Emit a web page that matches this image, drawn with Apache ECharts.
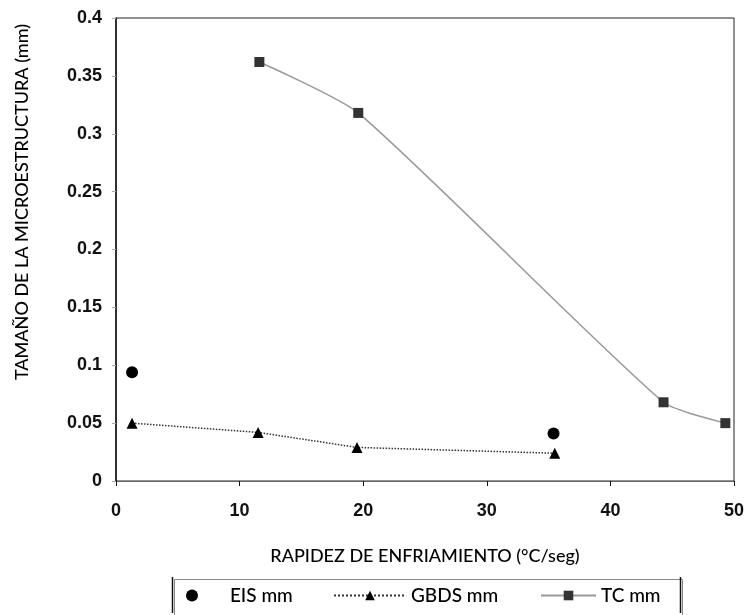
<!DOCTYPE html>
<html>
<head>
<meta charset="utf-8">
<script src="https://cdn.jsdelivr.net/npm/echarts@6/dist/echarts.min.js"></script>
<style>html,body{margin:0;padding:0;background:#fff;}#c{width:751px;height:615px;}</style>
</head>
<body>
<div id="c"></div>
<script>
const xTicks = [0, 10, 20, 30, 40, 50];
const yTicks = [0, 0.05, 0.1, 0.15, 0.2, 0.25, 0.3, 0.35, 0.4];
const eisX = [1.3, 35.4];
const eisY = [0.094, 0.041];
const gbdsX = [1.3, 11.5, 19.5, 35.5];
const gbdsY = [0.05, 0.042, 0.029, 0.024];
const tcX = [11.6, 19.6, 44.3, 49.3];
const tcY = [0.362, 0.318, 0.068, 0.05];
const seriesNames = ['EIS mm', 'GBDS mm', 'TC mm'];
const xTitle = 'RAPIDEZ DE ENFRIAMIENTO (°C/seg)';
const yTitle = 'TAMAÑO DE LA MICROESTRUCTURA (mm)';

const zip = (xs, ys) => xs.map((x, i) => [x, ys[i]]);
const titleFont = 'Lato, "Open Sans", sans-serif';
const numFont = '"Liberation Sans", Arial, sans-serif';
const legText = {fontFamily: titleFont, fontSize: 19, fontWeight: 500, color: '#000'};

const chart = echarts.init(document.getElementById('c'), null, {renderer: 'canvas'});
chart.setOption({
  backgroundColor: '#fff',
  animation: false,
  grid: {left: 116, right: 17, top: 18, bottom: 134, show: true, borderColor: '#222', borderWidth: 1, containLabel: false},
  xAxis: {
    type: 'value', min: xTicks[0], max: xTicks[xTicks.length - 1], interval: 10,
    name: xTitle, nameLocation: 'middle', nameGap: 66,
    nameTextStyle: {fontFamily: titleFont, fontSize: 18, fontWeight: 500, color: '#000'},
    axisLine: {show: true, lineStyle: {color: '#666', width: 1}},
    axisTick: {show: true, inside: false, length: 5, lineStyle: {color: '#111'}},
    axisLabel: {fontFamily: numFont, fontSize: 18, fontWeight: 'bold', color: '#111', margin: 21},
    splitLine: {show: false}
  },
  yAxis: {
    type: 'value', min: yTicks[0], max: yTicks[yTicks.length - 1], interval: 0.05,
    axisLine: {show: true, lineStyle: {color: '#111', width: 1.5}},
    axisTick: {show: true, inside: false, length: 4, lineStyle: {color: '#aaa'}},
    axisLabel: {fontFamily: numFont, fontSize: 18, fontWeight: 'bold', color: '#111', margin: 14,
      formatter: v => String(+v.toFixed(2))},
    splitLine: {show: false}
  },
  legend: [
    {data: [seriesNames[0]], left: 186, top: 586, itemWidth: 37, itemHeight: 12, padding: 0,
      formatter: n => '   ' + n, textStyle: legText},
    {data: [seriesNames[1]], left: 333, top: 586, itemWidth: 72, itemHeight: 12, padding: 0,
      textStyle: legText},
    {data: [seriesNames[2]], left: 540, top: 586, itemWidth: 55, itemHeight: 12, padding: 0,
      textStyle: legText}
  ],
  graphic: [
    {type: 'rect', left: 172, top: 577, shape: {width: 508, height: 36},
      style: {fill: 'none', stroke: '#888', lineWidth: 1}, z: 0},
    {type: 'line', shape: {x1: 172.5, y1: 577, x2: 172.5, y2: 613}, style: {stroke: '#111', lineWidth: 1.5}},
    {type: 'line', shape: {x1: 680.5, y1: 577, x2: 680.5, y2: 613}, style: {stroke: '#111', lineWidth: 1.5}},
    {type: 'text', x: 22, y: 202, rotation: Math.PI / 2,
      style: {text: yTitle, fontFamily: titleFont, fontSize: 18, fontWeight: 500, fill: '#000', textAlign: 'center', textVerticalAlign: 'middle'}}
  ],
  series: [
    {name: seriesNames[0], type: 'scatter', data: zip(eisX, eisY), symbol: 'circle', symbolSize: 12,
      itemStyle: {color: '#000', opacity: 1}},
    {name: seriesNames[1], type: 'line', data: zip(gbdsX, gbdsY), symbol: 'triangle', symbolSize: 11,
      lineStyle: {color: '#333', width: 1.5, type: 'dotted'}, itemStyle: {color: '#000'}},
    {name: seriesNames[2], type: 'line', data: zip(tcX, tcY), smooth: 0.2, symbol: 'rect', symbolSize: 10,
      lineStyle: {color: '#999', width: 1.5}, itemStyle: {color: '#333'}}
  ]
});
</script>
</body>
</html>
